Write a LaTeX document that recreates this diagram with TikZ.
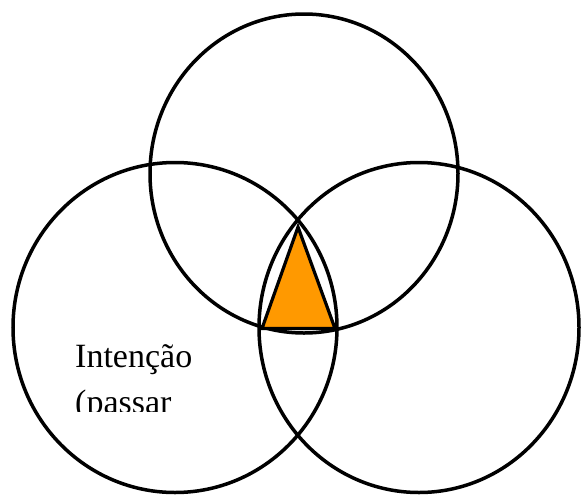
\documentclass[tikz,border=0pt]{standalone}
\usepackage{fontspec}
\setmainfont{Liberation Serif}
\usepackage{xcolor}
\usetikzlibrary{positioning}
\definecolor{lensorange}{RGB}{255,153,0}

\begin{document}
\begin{tikzpicture}[
            x=1pt, y=-1pt,
            ring/.style={draw=black, line width=3.5pt},
            core/.style={draw=black, fill=lensorange, line width=3.2pt, line join=miter},
            label text/.style={
                    anchor=base west, inner sep=0pt, align=left,
                    font=\fontsize{34}{46}\selectfont
                }
            ]

            \useasboundingbox (0,0) rectangle (581,496);

            % ===== Three overlapping rings =====
            \draw[ring] (304,173.5) ellipse [x radius=154, y radius=159.5];
            \draw[ring] (175,327.5) ellipse [x radius=162, y radius=165];
            \draw[ring] (419,327.5) ellipse [x radius=160, y radius=165];

            % ===== Centre triangle =====
            \coordinate (apex) at (298,227);
            \coordinate (baseleft) at (262,328.5);
            \coordinate (baseright) at (335,328.5);
            \draw[core] (apex) -- (baseleft) -- (baseright) -- cycle;

            % ===== Label (cut off at the bottom) =====
            \begin{scope}
                \clip (0,0) rectangle (581,411);
                \node[label text] (intencao) at (75,413) {Intenção\\(passar};
            \end{scope}

        \end{tikzpicture}
\end{document}
